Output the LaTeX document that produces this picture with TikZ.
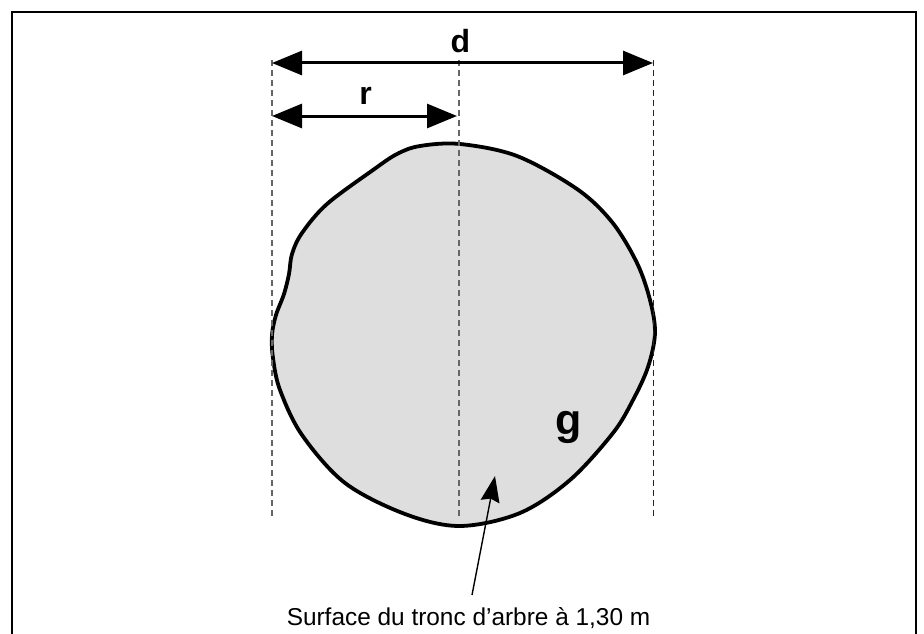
\documentclass[tikz,border=0pt]{standalone}
\usepackage{fontspec}
\setmainfont{Liberation Sans}
\usetikzlibrary{arrows.meta}
\begin{document}
\begin{tikzpicture}[x=1pt,y=-1pt,
  frame/.style={line width=2.8pt,line cap=rect},
  guide/.style={dashed,dash pattern=on 6pt off 4pt,line width=1.1pt,color=black!60},
  guidedark/.style={dashed,dash pattern=on 6pt off 4pt,line width=0.9pt,color=black!85},
  dim/.style={line width=3pt,{Triangle[length=30pt,width=24pt]}-{Triangle[length=30pt,width=24pt]}},
  trunk/.style={line width=3.8pt,fill=black!13,line join=round},
  lbl/.style={font=\bfseries,inner sep=0pt,anchor=base},
  pointer/.style={line width=1.4pt,-{Stealth[length=26pt,width=19pt,inset=3pt]}}]
\useasboundingbox (0,0) rectangle (924,634);
% frame (bottom edge lies outside the picture)
\draw[frame] (12,640) -- (12,12) -- (916,12) -- (916,640);
% trunk cross-section
\draw[trunk] plot[smooth cycle,tension=0.55] coordinates{
 (460,144) (517,156) (577,189) (612,222) (637,263) (650,300) (655,333)
 (648,367) (633,400) (613,433) (570,480) (520,513) (460,526)
 (405,514) (345,483) (302,435) (280,390) (273,358) (272,335) (276,315)
 (284,294) (289,274) (292,254) (302,233) (327,204) (373,170) (397,154) (420,146)};
% guide lines
\coordinate (gLt) at (272,60);  \coordinate (gLb) at (272,518);
\coordinate (gCt) at (459,60);  \coordinate (gCb) at (459,518);
\coordinate (gRt) at (653,60);  \coordinate (gRb) at (653,518);
\draw[guide] (gLt) -- (gLb);
\draw[guide] (gCt) -- (gCb);
\draw[guidedark] (gRt) -- (gRb);
% dimension arrows
\coordinate (dL) at (272,63); \coordinate (dR) at (653,63);
\coordinate (rL) at (272,116); \coordinate (rR) at (457,116);
\draw[dim] (dL) -- (dR);
\draw[dim] (rL) -- (rR);
\node[lbl,font=\bfseries\fontsize{32}{32}\selectfont] (d) at (460.5,53) {d};
\node[lbl,font=\bfseries\fontsize{32}{32}\selectfont] (r) at (365.5,104) {r};
\node[lbl,font=\bfseries\fontsize{43}{43}\selectfont] (g) at (569,434) {g};
% caption and pointer
\node[inner sep=0pt,anchor=base,font=\fontsize{24.4}{24.4}\selectfont] (cap) at (468.5,625) {Surface du tronc d’arbre à 1,30 m};
\coordinate (pS) at (472,595);
\coordinate (pT) at (495,476);
\draw[pointer] (pS) -- (pT);
\end{tikzpicture}
\end{document}
